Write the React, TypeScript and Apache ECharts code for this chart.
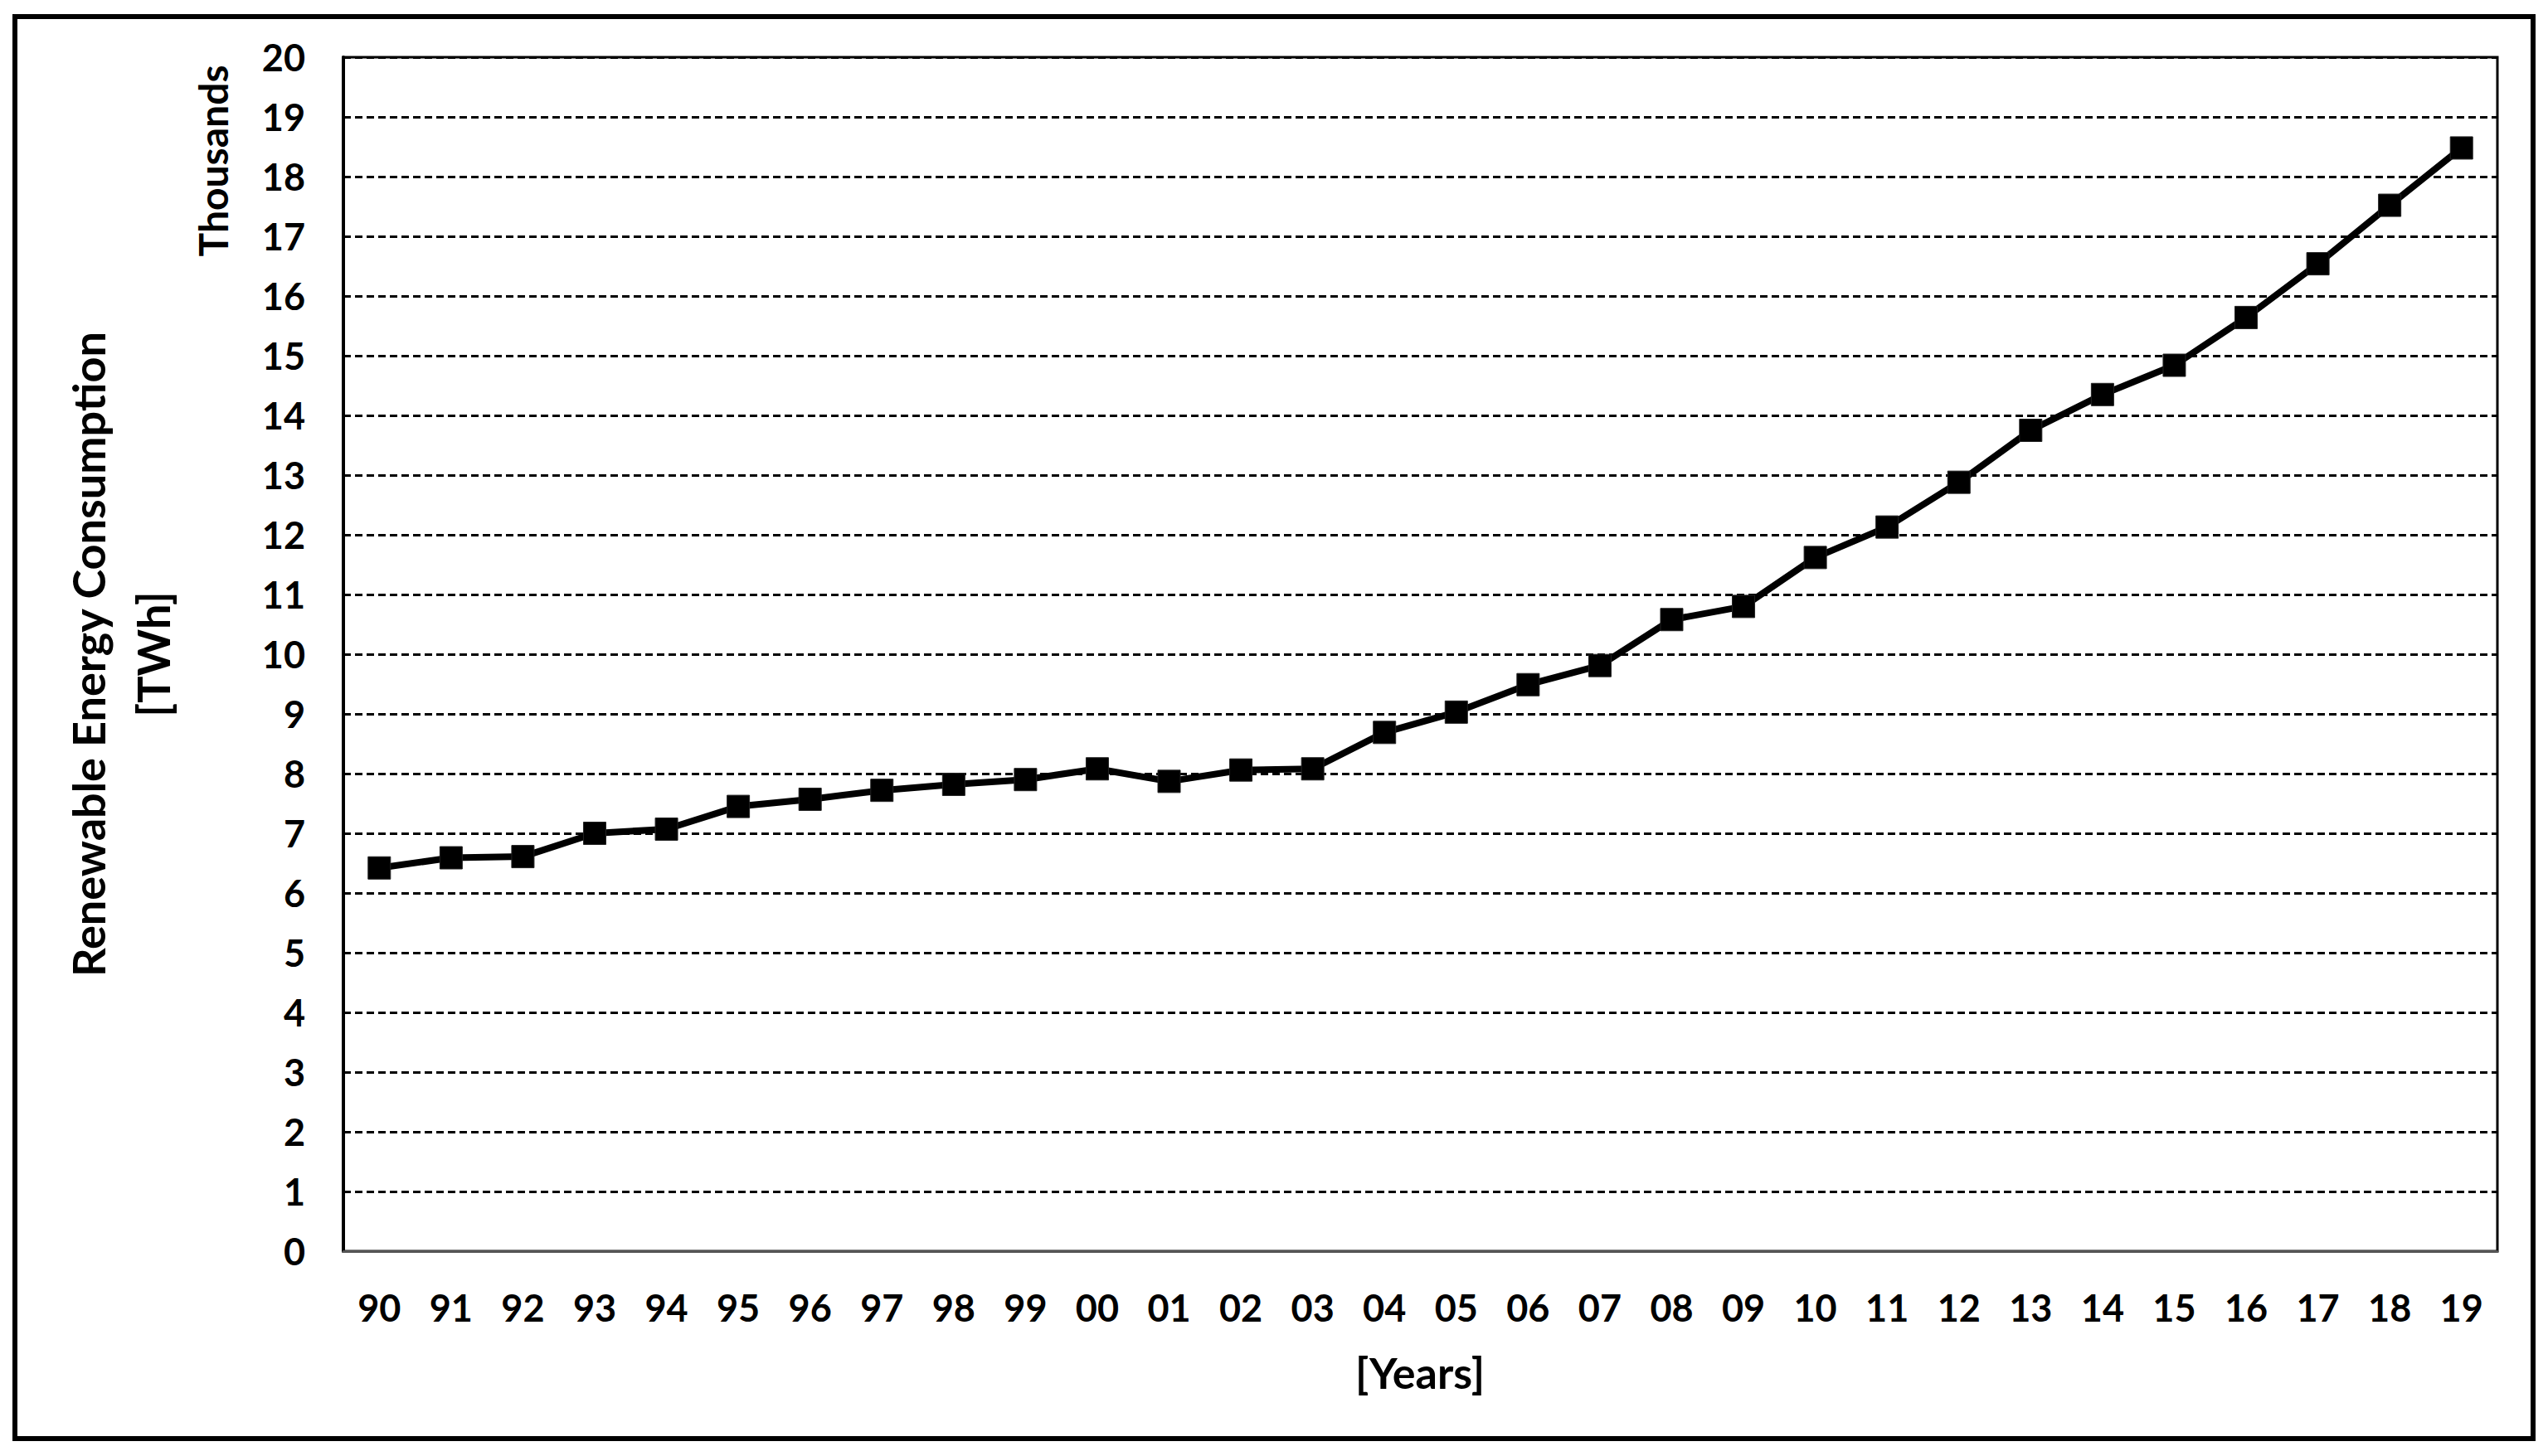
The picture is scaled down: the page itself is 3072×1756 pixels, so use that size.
import React, { useEffect, useRef } from "react";
import * as echarts from "echarts";

const years = ["90","91","92","93","94","95","96","97","98","99","00","01","02","03","04","05","06","07","08","09","10","11","12","13","14","15","16","17","18","19"];
const consumption = [6.42,6.59,6.61,7.0,7.07,7.45,7.57,7.72,7.82,7.9,8.08,7.87,8.06,8.08,8.69,9.03,9.49,9.81,10.58,10.8,11.62,12.13,12.88,13.75,14.35,14.84,15.64,16.54,17.52,18.48];
const yMin = 0;
const yMax = 20;
const yInterval = 1;
const yUnitLabel = "Thousands";
const yTitle = "Renewable Energy Consumption\n[TWh]";
const xTitle = "[Years]";

const FONT = "Lato, 'Noto Sans', sans-serif";

export default function App() {
  const ref = useRef<HTMLDivElement>(null);
  useEffect(() => {
    document.body.style.margin = "0";
    const chart = echarts.init(ref.current!, null, { renderer: "svg" });
    chart.setOption({
      animation: false,
      backgroundColor: "#ffffff",
      grid: {
        left: 414,
        top: 69,
        width: 2597,
        height: 1440,
        show: true,
        borderColor: "#000",
        borderWidth: 3,
        backgroundColor: "transparent",
      },
      xAxis: {
        type: "category",
        data: years,
        boundaryGap: true,
        axisLine: { show: true, lineStyle: { color: "#555", width: 3 } },
        axisTick: { show: false },
        axisLabel: {
          margin: 45,
          fontFamily: FONT,
          fontWeight: "bold",
          fontSize: 45,
          color: "#000",
        },
        splitLine: { show: false },
      },
      yAxis: {
        type: "value",
        min: yMin,
        max: yMax,
        interval: yInterval,
        axisLine: { show: true, lineStyle: { color: "#000", width: 4 } },
        axisTick: { show: false },
        axisLabel: {
          margin: 46,
          fontFamily: FONT,
          fontWeight: "bold",
          fontSize: 45,
          color: "#000",
        },
        splitLine: {
          show: true,
          lineStyle: { color: "#000", width: 3, type: [9, 5] },
        },
      },
      series: [
        {
          type: "line",
          data: consumption,
          symbol: "rect",
          symbolSize: 27,
          showSymbol: true,
          lineStyle: { color: "#000", width: 8 },
          itemStyle: { color: "#000", borderColor: "#222", borderWidth: 1 },
          z: 5,
        },
      ],
      graphic: [
        {
          type: "rect",
          shape: { x: 18, y: 20, width: 3036, height: 1715 },
          style: { fill: "none", stroke: "#000", lineWidth: 6 },
          silent: true,
        },
        {
          type: "text",
          x: 256,
          y: 194,
          rotation: Math.PI / 2,
          style: {
            text: yUnitLabel,
            fontFamily: FONT,
            fontWeight: "bold",
            fontSize: 48,
            fill: "#000",
            align: "center",
            verticalAlign: "middle",
          },
        },
        {
          type: "text",
          x: 145,
          y: 789,
          rotation: Math.PI / 2,
          style: {
            text: yTitle,
            fontFamily: FONT,
            fontWeight: "bold",
            fontSize: 54,
            lineHeight: 78,
            fill: "#000",
            align: "center",
            verticalAlign: "middle",
          },
        },
        {
          type: "text",
          x: 1712,
          y: 1655,
          style: {
            text: xTitle,
            fontFamily: FONT,
            fontWeight: "bold",
            fontSize: 52,
            fill: "#000",
            align: "center",
            verticalAlign: "middle",
          },
        },
      ],
    });
    return () => chart.dispose();
  }, []);
  return <div ref={ref} style={{ width: 3072, height: 1756 }} />;
}
